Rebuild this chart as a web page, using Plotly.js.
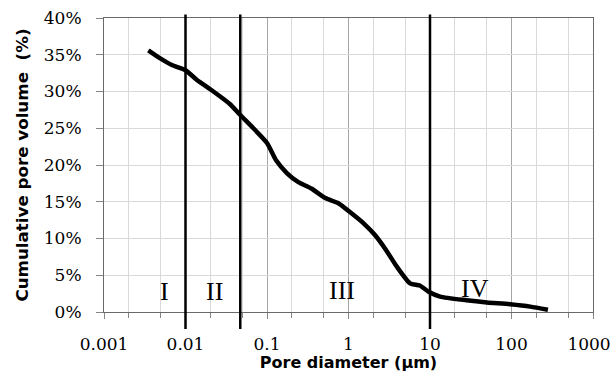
<!DOCTYPE html>
<html>
<head>
<meta charset="utf-8">
<script src="https://cdn.plot.ly/plotly-3.0.1.min.js"></script>
<style>html,body{margin:0;padding:0;background:#fff;}#chart{width:611px;height:372px;}</style>
</head>
<body>
<div id="chart"></div>
<script>
// Pore diameter (µm) and cumulative pore volume (%)
var poreDiameter = [0.0035, 0.0049, 0.0068, 0.01, 0.0137, 0.022, 0.035, 0.047, 0.068, 0.1, 0.13, 0.175, 0.24, 0.35, 0.52, 0.75, 1.04, 1.52, 2.1, 2.9, 3.9, 5.7, 7.5, 9.5, 13.3, 28, 50, 96, 170, 280];
var cumulativeVolume = [35.6, 34.5, 33.6, 32.9, 31.6, 30.0, 28.3, 26.8, 25.0, 23.0, 20.6, 18.9, 17.7, 16.8, 15.5, 14.8, 13.6, 12.1, 10.5, 8.4, 6.2, 3.9, 3.6, 2.8, 2.1, 1.6, 1.3, 1.05, 0.73, 0.3];
// Region boundaries (µm) and region labels
var boundaries = [0.01, 0.047, 10];
var regionLabels = ['I', 'II', 'III', 'IV'];
var regionLabelDiameter = [0.00545, 0.0224, 0.83, 35.6];
var regionLabelVolume = [2.8, 2.8, 2.9, 3.2];
var xTickVals = [0.001, 0.01, 0.1, 1, 10, 100, 1000];
var xTickText = ['0.001', '0.01', '0.1', '1', '10', '100', '1000'];

var lastIdx = xTickVals.length - 1;
var mainTickText = xTickText.map(function (t, i) { return i === lastIdx ? '' : t; });

var shapes = boundaries.map(function (b) {
  return {type: 'line', xref: 'x', yref: 'paper', x0: b, x1: b, y0: -0.058, y1: 1.012,
          line: {color: '#000', width: 2.5}, layer: 'above'};
});
var annotations = regionLabels.map(function (t, i) {
  return {text: t, x: Math.log10(regionLabelDiameter[i]), y: regionLabelVolume[i], xref: 'x', yref: 'y',
          showarrow: false, font: {family: 'Liberation Serif', size: 26, color: '#000'}};
});

var trace = {
  x: poreDiameter, y: cumulativeVolume, type: 'scatter', mode: 'lines',
  line: {color: '#000', width: 4.5, shape: 'spline', smoothing: 0.6},
  hoverinfo: 'skip'
};
// empty helper trace so the overlaid label axis is drawn (no marks)
var labelAxisTrace = {x: [], y: [], type: 'scatter', mode: 'lines', xaxis: 'x2', yaxis: 'y', hoverinfo: 'skip'};

var tickFont = {family: 'DejaVu Serif', size: 17, color: '#000'};
var xRange = [-3.00005, 3.00005];

var layout = {
  width: 611, height: 372,
  margin: {l: 104, r: 18, t: 18, b: 60},
  paper_bgcolor: '#fff', plot_bgcolor: '#fff',
  showlegend: false,
  xaxis: {
    type: 'log', range: xRange, tickvals: xTickVals, ticktext: mainTickText,
    ticks: 'outside', ticklen: 6, tickcolor: '#868686',
    showline: true, linecolor: '#6a6a6a', linewidth: 1, mirror: true,
    showgrid: true, gridcolor: '#a6a6a6', gridwidth: 1,
    minor: {ticks: 'outside', ticklen: 5, tickcolor: '#868686', showgrid: true, gridcolor: '#d9d9d9', gridwidth: 1},
    tickfont: tickFont,
    ticklabelstandoff: 11,
    zeroline: false,
    title: {text: 'Pore diameter (µm)', font: {family: 'DejaVu Sans', size: 16, color: '#000', weight: 'bold'}, standoff: 3}
  },
  xaxis2: {
    type: 'log', range: xRange, autorange: false, overlaying: 'x', anchor: 'y', side: 'bottom',
    tickvals: [xTickVals[lastIdx]], ticktext: [xTickText[lastIdx]],
    ticklabeloverflow: 'allow', ticklabelshift: -4,
    ticks: 'outside', ticklen: 6, tickcolor: 'rgba(0,0,0,0)', showline: false, showgrid: false, zeroline: false,
    tickfont: tickFont,
    ticklabelstandoff: 11
  },
  yaxis: {
    range: [0, 40], dtick: 5, ticksuffix: '%',
    ticks: 'outside', ticklen: 7, tickcolor: '#868686',
    showline: true, linecolor: '#6a6a6a', linewidth: 1, mirror: true,
    showgrid: true, gridcolor: '#d9d9d9', gridwidth: 1,
    tickfont: tickFont,
    ticklabelstandoff: 11,
    zeroline: false,
    title: {text: 'Cumulative\u00a0pore\u00a0volume\u00a0\u00a0(%)', font: {family: 'DejaVu Sans', size: 16.7, color: '#000', weight: 'bold'}, standoff: 10}
  },
  shapes: shapes,
  annotations: annotations
};

Plotly.newPlot('chart', [trace, labelAxisTrace], layout, {staticPlot: true, displayModeBar: false});
</script>
</body>
</html>
